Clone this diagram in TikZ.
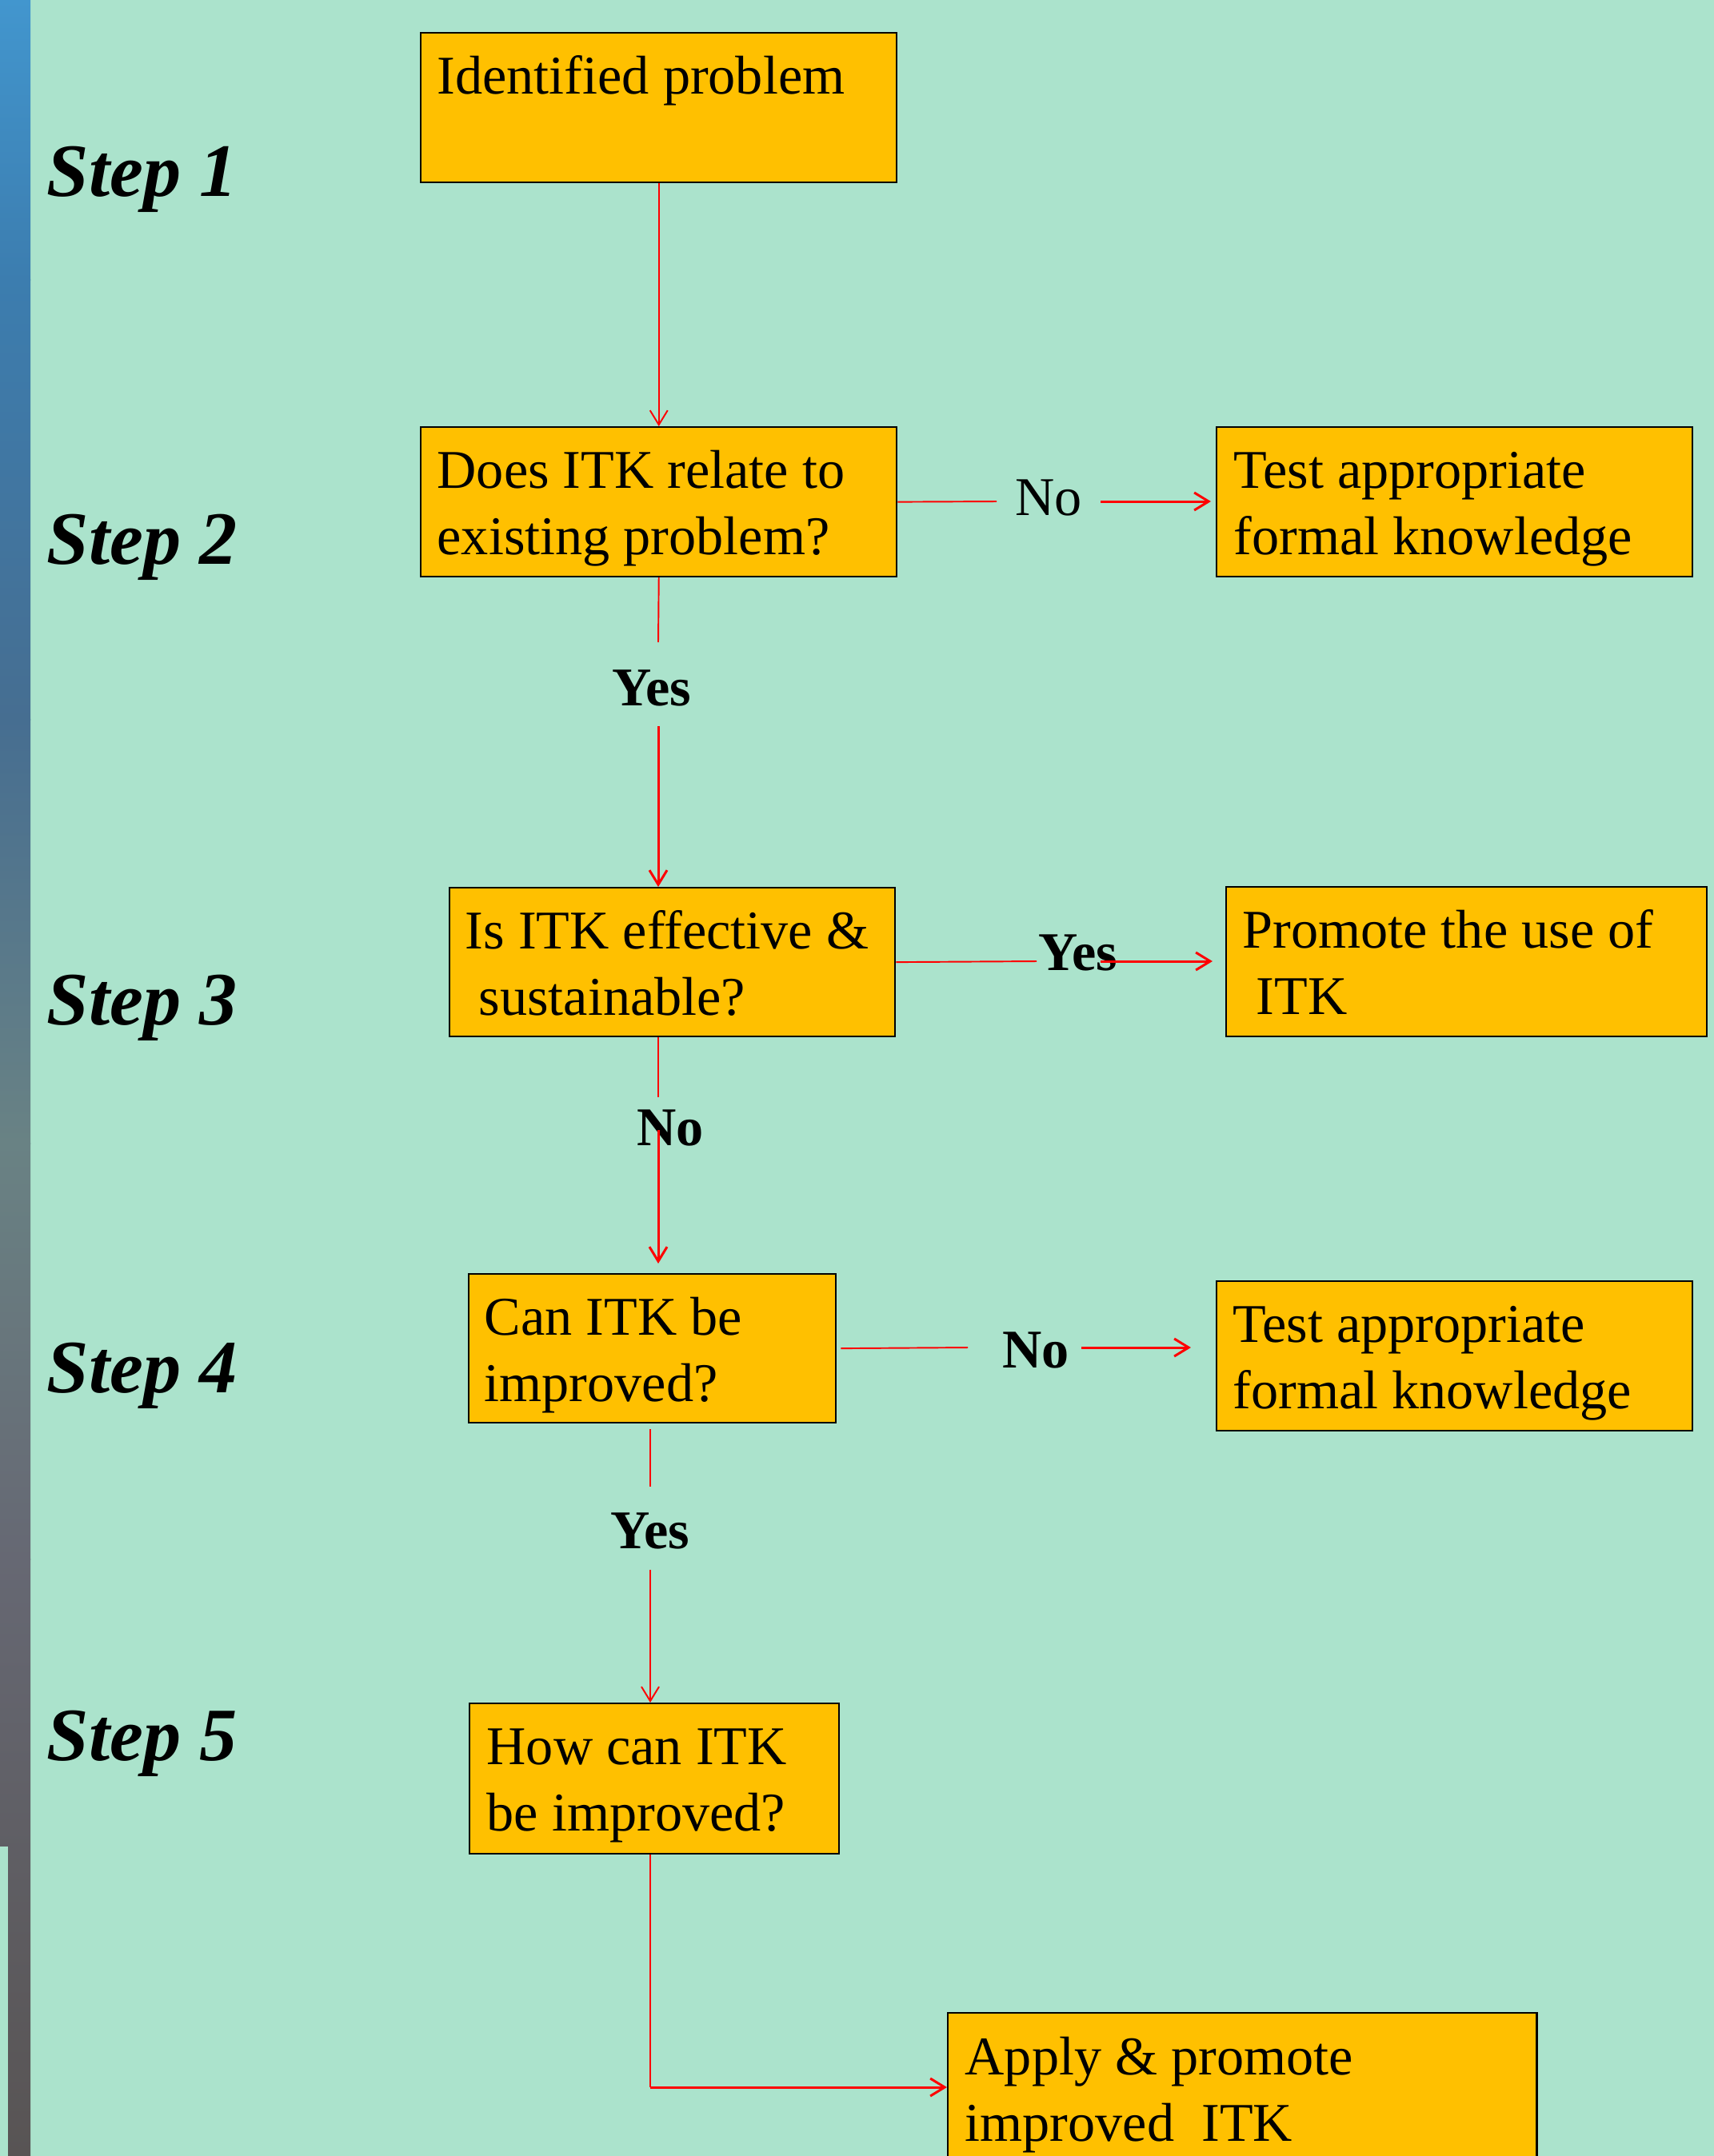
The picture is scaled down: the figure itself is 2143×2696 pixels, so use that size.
\documentclass[tikz,border=0pt]{standalone}
\usepackage{fontspec}
\setmainfont{Liberation Serif}
\usetikzlibrary{arrows.meta}
\definecolor{bg}{RGB}{171,227,204}
\definecolor{gold}{RGB}{255,192,0}
\definecolor{redline}{RGB}{255,0,0}
\definecolor{ga}{RGB}{66,150,206}
\definecolor{gb}{RGB}{60,125,175}
\definecolor{gc}{RGB}{70,110,145}
\definecolor{gd}{RGB}{105,130,132}
\definecolor{ge}{RGB}{102,104,115}
\definecolor{gf}{RGB}{88,84,84}
\newcommand{\twoln}[2]{\vtop{\baselineskip=0.83cm\hbox{#1}\hbox{#2}}}
\begin{document}
\begin{tikzpicture}[x=0.01cm,y=-0.01cm,
  box/.style={draw=black, line width=0.6pt, fill=gold, inner sep=0pt, anchor=north west},
  txt/.style={anchor=base west, inner sep=0pt, font=\fontsize{19.4pt}{23.6pt}\selectfont},
  lbl/.style={anchor=base, inner sep=0pt, font=\fontsize{19.4pt}{23.6pt}\selectfont\bfseries},
  lblr/.style={anchor=base, inner sep=0pt, font=\fontsize{19.4pt}{23.6pt}\selectfont},
  steplbl/.style={anchor=base west, inner sep=0pt, font=\fontsize{26.8pt}{32pt}\selectfont\bfseries\itshape},
  conn/.style={draw=redline, line width=0.55pt},
  connb/.style={draw=redline, line width=0.85pt},
  tip/.style={-{Straight Barb[length=0.18cm,width=0.22cm]}},
]
\useasboundingbox (0,0) rectangle (2143,2696);
\clip (0,0) rectangle (2143,2696);
\fill[bg] (0,0) rectangle (2143,2696);
% left strip
\shade[top color=ga, bottom color=gb] (0,0) rectangle (38,350);
\shade[top color=gb, bottom color=gc] (0,349) rectangle (38,900);
\shade[top color=gc, bottom color=gd] (0,899) rectangle (38,1430);
\shade[top color=gd, bottom color=ge] (0,1429) rectangle (38,1950);
\shade[top color=ge, bottom color=gf] (0,1949) rectangle (38,2696);
\fill[bg] (0,2309) rectangle (10,2696);

% step labels
\node[steplbl] (s1) at (58,245) {Step 1};
\node[steplbl] (s2) at (58,705) {Step 2};
\node[steplbl] (s3) at (58,1281) {Step 3};
\node[steplbl] (s4) at (58,1741) {Step 4};
\node[steplbl] (s5) at (58,2201) {Step 5};

% boxes
\node[box, minimum width=5.95cm, minimum height=1.87cm] (b1) at (525,40) {};
\node[box, minimum width=5.95cm, minimum height=1.87cm] (b2) at (525,533) {};
\node[box, minimum width=5.95cm, minimum height=1.87cm] (t1) at (1520,533) {};
\node[box, minimum width=5.57cm, minimum height=1.86cm] (b3) at (561,1109) {};
\node[box, minimum width=6.01cm, minimum height=1.87cm] (pr) at (1532,1108) {};
\node[box, minimum width=4.59cm, minimum height=1.86cm] (b4) at (585,1592) {};
\node[box, minimum width=5.95cm, minimum height=1.87cm] (t2) at (1520,1601) {};
\node[box, minimum width=4.62cm, minimum height=1.88cm] (b5) at (586,2129) {};
\node[box, minimum width=7.36cm, minimum height=2.60cm] (ap) at (1184,2516) {};

% box texts
\node[txt] (x1) at (546,117) {Identified problem};
\node[txt] (x2) at (546,610) {\twoln{Does ITK relate to}{existing problem?}};
\node[txt] (xt1) at (1542,610) {\twoln{Test appropriate}{formal knowledge}};
\node[txt] (x3) at (581,1186) {\twoln{Is ITK effective \&}{\ sustainable?}};
\node[txt] (xpr) at (1553,1185) {\twoln{Promote the use of}{\ ITK}};
\node[txt] (x4) at (605,1669) {\twoln{Can ITK be}{improved?}};
\node[txt] (xt2) at (1541,1678) {\twoln{Test appropriate}{formal knowledge}};
\node[txt] (x5) at (608,2206) {\twoln{How can ITK}{be improved?}};
\node[txt] (xap) at (1206,2594) {\twoln{Apply \& promote}{improved\ \ ITK}};

% connector labels
\node[lbl] (yes1) at (815,882) {Yes};
\node[lblr] (no1) at (1311,644) {No};
\node[lbl] (yes2) at (1348,1213) {Yes};
\node[lbl] (no2) at (838,1432) {No};
\node[lbl] (no3) at (1295,1710) {No};
\node[lbl] (yes3) at (813,1936) {Yes};

% connectors
\coordinate (c2a) at (823,803);
\coordinate (c2b) at (823,908);
\coordinate (c3a) at (1246,627);
\coordinate (c3b) at (1376,627);
\coordinate (c4a) at (1296,1202);
\coordinate (c4b) at (1376,1202);
\coordinate (c5a) at (823,1372);
\coordinate (c5b) at (823,1413);
\coordinate (c6a) at (1210,1685);
\coordinate (c6b) at (1352,1685);
\coordinate (c7a) at (813,1859);
\coordinate (c7b) at (813,1963);
\coordinate (c8) at (813,2610);

\draw[conn,tip] (b1.south) -- (b2.north);
\draw[conn] (b2.south) -- (c2a);
\draw[connb,tip] (c2b) -- (c2b |- b3.north);
\draw[conn] (b2.east) -- (c3a);
\draw[connb,tip,shorten >=0.06cm] (c3b) -- (c3b -| t1.west);
\draw[conn] (b3.east) -- (c4a);
\draw[connb,tip,shorten >=0.16cm] (c4b) -- (c4b -| pr.west);
\draw[conn] (c5a |- b3.south) -- (c5a);
\draw[connb,tip,shorten >=0.12cm] (c5b) -- (c5b |- b4.north);
\draw[conn] ([xshift=0.05cm]b4.east) -- (c6a);
\draw[connb,tip,shorten >=0.31cm] (c6b) -- (c6b -| t2.west);
\draw[conn] ([yshift=-0.07cm]c7a |- b4.south) -- (c7a);
\draw[conn,tip] (c7b) -- (c7b |- b5.north);
\draw[conn] (c8 |- b5.south) -- (c8);
\draw[connb,tip] (c8) -- (c8 -| ap.west);
\end{tikzpicture}
\end{document}
